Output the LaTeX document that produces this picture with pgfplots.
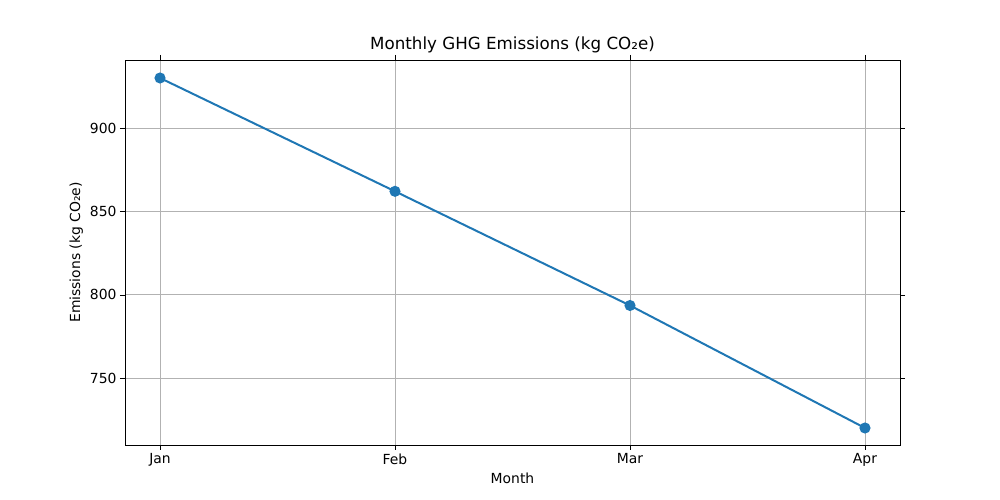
\documentclass[border=0pt]{standalone}
\usepackage{pgfplots}
\pgfplotsset{compat=1.18}
\usepackage{fontspec}
\setmainfont{DejaVu Sans}
\begin{document}
\begin{tikzpicture}[x=1pt,y=1pt]
\path[use as bounding box] (0,0) rectangle (1000,500);
\begin{axis}[
  at={(125pt,55pt)}, anchor=south west,
  width=775pt, height=385pt, scale only axis,
  xmin=-0.149, xmax=3.149, ymin=709.8, ymax=940.8,
  xtick={0,1,2,3}, xticklabels={Jan,Feb,Mar,Apr},
  ytick={750,800,850,900},
  grid=major, grid style={gray!60, line width=0.8pt},
  tick style={black}, tick align=outside,
  major tick length=5pt,
  /pgf/number format/assume math mode=true,
  ticklabel style={font=\fontsize{13.9}{16}\selectfont},
  title={Monthly GHG Emissions (kg CO₂e)},
  title style={font=\fontsize{16.7}{19}\selectfont, yshift=-3pt},
  xlabel={Month}, ylabel={Emissions (kg CO₂e)},
  label style={font=\fontsize{13.9}{16}\selectfont},
  axis line style={black, line width=0.8pt},
]
\addplot[color={rgb,255:red,31;green,119;blue,180}, line width=2pt, mark=*, mark size=4.5pt]
  coordinates {(0,930) (1,862) (2,793.5) (3,720)};
\end{axis}
\end{tikzpicture}
\end{document}
